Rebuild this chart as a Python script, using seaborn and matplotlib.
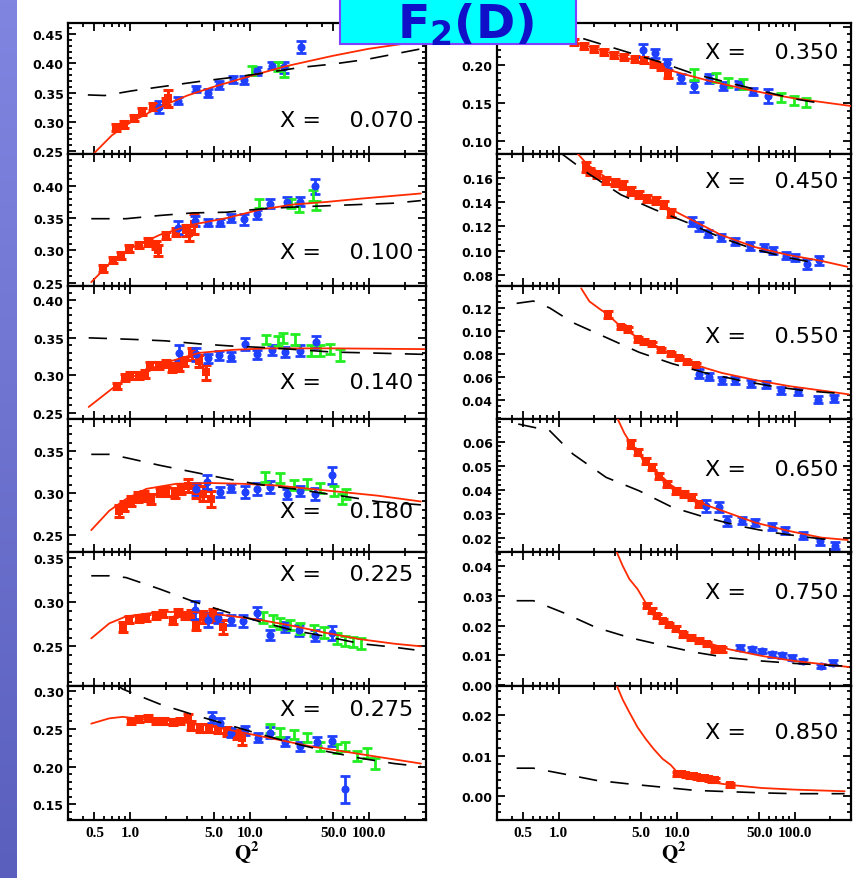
import numpy as np
import matplotlib
matplotlib.use("Agg")
import matplotlib.pyplot as plt
import seaborn as sns
from matplotlib.ticker import (FixedLocator, LogLocator, MultipleLocator,
                               AutoMinorLocator, FuncFormatter, NullFormatter)
from matplotlib.patches import Rectangle
from matplotlib.colors import LinearSegmentedColormap

# ---------------- data (panel order: left column top->bottom, right column top->bottom)
X_LABELS = ["0.070", "0.100", "0.140", "0.180", "0.225", "0.275",
            "0.350", "0.450", "0.550", "0.650", "0.750", "0.850"]

RED_Q = [
    [0.76, 0.89, 1.08, 1.25, 1.54, 1.97, 2.05],
    [0.585, 0.71, 0.83, 0.98, 1.19, 1.4, 1.65, 1.7, 2.0, 2.4, 2.9, 3.1, 3.4],
    [0.765, 0.9, 0.99, 1.17, 1.33, 1.47, 1.73, 1.97, 2.24, 2.55, 2.82, 3.3, 3.77, 4.3],
    [0.81, 0.89, 1.01, 1.15, 1.31, 1.49, 1.76, 2.0, 2.35, 2.67, 3.04, 3.57, 4.07, 4.77],
    [0.86, 0.98, 1.19, 1.35, 1.65, 1.87, 2.27, 2.5, 2.85, 3.24, 3.57, 4.07, 4.95, 6.0],
    [1.01, 1.19, 1.4, 1.65, 1.93, 2.27, 2.6, 3.04, 3.24, 3.8, 4.6, 5.4, 6.4, 7.8, 8.6],
    [1.1, 1.36, 1.65, 2.0, 2.44, 2.96, 3.6, 4.4, 5.3, 6.45, 7.4, 8.4],
    [1.7, 1.85, 2.1, 2.5, 3.0, 3.5, 4.1, 4.8, 5.6, 6.7, 7.8, 8.95],
    [2.6, 3.37, 3.84, 4.66, 5.3, 6.2, 7.3, 8.9, 10.4, 12.3, 14.5],
    [4.1, 4.66, 5.46, 6.2, 7.1, 8.3, 9.8, 11.5, 13.5, 15.4],
    [5.65, 6.2, 6.85, 7.6, 8.6, 9.8, 11.2, 13.1, 15.4, 18.1, 21.3, 24.3],
    [10.1, 11.0, 11.9, 13.0, 14.0, 15.0, 16.0, 17.5, 18.8, 20.0, 21.3, 28.5],
]
RED_F2 = [
    [0.291, 0.295, 0.307, 0.318, 0.327, 0.334, 0.340],
    [0.272, 0.285, 0.292, 0.303, 0.308, 0.313, 0.308, 0.300, 0.323, 0.328, 0.331, 0.327, 0.341],
    [0.286, 0.297, 0.300, 0.300, 0.302, 0.313, 0.313, 0.316, 0.311, 0.312, 0.319, 0.328, 0.319, 0.304],
    [0.279, 0.285, 0.291, 0.295, 0.297, 0.293, 0.301, 0.302, 0.300, 0.305, 0.309, 0.302, 0.299, 0.293],
    [0.272, 0.280, 0.282, 0.283, 0.285, 0.287, 0.279, 0.288, 0.285, 0.286, 0.274, 0.283, 0.285, 0.272],
    [0.260, 0.263, 0.265, 0.261, 0.260, 0.259, 0.261, 0.265, 0.254, 0.251, 0.251, 0.249, 0.247, 0.242, 0.238],
    [0.236, 0.230, 0.225, 0.221, 0.2175, 0.213, 0.210, 0.208, 0.206, 0.201, 0.197, 0.188],
    [0.169, 0.165, 0.1625, 0.158, 0.156, 0.154, 0.149, 0.146, 0.143, 0.141, 0.138, 0.131],
    [0.1144, 0.1036, 0.1016, 0.093, 0.091, 0.0888, 0.0837, 0.0803, 0.0769, 0.0732, 0.0703],
    [0.0590, 0.0555, 0.0520, 0.0493, 0.0458, 0.0423, 0.0395, 0.0381, 0.0368, 0.0340],
    [0.0267, 0.0250, 0.0233, 0.0216, 0.0202, 0.0190, 0.0171, 0.0160, 0.0149, 0.0138, 0.0121, 0.0121],
    [0.0055, 0.0054, 0.0052, 0.0050, 0.0049, 0.0047, 0.0044, 0.0044, 0.0043, 0.0041, 0.0039, 0.0028],
]
RED_ERR = [
    [0.006, 0.006, 0.005, 0.006, 0.006, 0.006, 0.014],
    [0.005, 0.005, 0.005, 0.005, 0.005, 0.006, 0.006, 0.008, 0.006, 0.006, 0.008, 0.012, 0.016],
    [0.004, 0.005, 0.005, 0.005, 0.005, 0.005, 0.005, 0.005, 0.006, 0.006, 0.006, 0.008, 0.008, 0.010],
    [0.007, 0.006, 0.006, 0.006, 0.006, 0.006, 0.005, 0.005, 0.006, 0.006, 0.008, 0.008, 0.009, 0.009],
    [0.006, 0.004, 0.004, 0.004, 0.004, 0.004, 0.004, 0.004, 0.004, 0.005, 0.006, 0.007, 0.007, 0.008],
    [0.004, 0.004, 0.004, 0.004, 0.004, 0.004, 0.004, 0.005, 0.006, 0.005, 0.005, 0.005, 0.006, 0.006, 0.010],
    [0.004, 0.004, 0.004, 0.004, 0.004, 0.004, 0.004, 0.004, 0.004, 0.004, 0.004, 0.005],
    [0.004, 0.003, 0.003, 0.003, 0.003, 0.003, 0.003, 0.003, 0.003, 0.003, 0.003, 0.003],
    [0.003, 0.002, 0.002, 0.002, 0.002, 0.002, 0.002, 0.002, 0.002, 0.002, 0.002],
    [0.0015, 0.0012, 0.0012, 0.0012, 0.0012, 0.0012, 0.0012, 0.0012, 0.0012, 0.0012],
    [0.0009, 0.0008, 0.0008, 0.0008, 0.0008, 0.0008, 0.0008, 0.0008, 0.0008, 0.0008, 0.0008, 0.0008],
    [0.0005, 0.0005, 0.0005, 0.0005, 0.0005, 0.0005, 0.0005, 0.0005, 0.0005, 0.0005, 0.0005, 0.0005],
]

BLUE_Q = [
    [1.73, 2.5, 3.54, 4.5, 5.56, 7.2, 9.0, 11.4, 15.3, 19.5, 27.0],
    [2.5, 3.45, 4.5, 5.6, 7.0, 9.0, 11.6, 14.8, 20.5, 26.5, 35.5],
    [2.55, 3.54, 4.5, 5.56, 7.0, 9.1, 11.4, 15.3, 19.8, 26.5, 35.7],
    [3.57, 4.35, 5.6, 7.0, 9.1, 11.5, 14.8, 20.5, 26.6, 35.5, 49.0],
    [3.46, 4.5, 5.4, 7.0, 8.85, 11.5, 14.8, 19.8, 25.7, 35.5, 49.0],
    [4.8, 5.6, 7.0, 9.1, 11.8, 14.8, 19.8, 26.6, 36.7, 49.0, 63.0],
    [5.15, 6.6, 8.3, 10.8, 14.1, 18.9, 24.6, 33.9, 44.2, 59.7],
    [13.4, 15.5, 18.5, 23.7, 31.0, 42.0, 54.5, 66.0, 84.0, 100.0, 128.0, 161.0],
    [15.4, 18.7, 24.2, 31.3, 43.0, 57.5, 77.0, 107.0, 158.0, 217.0],
    [17.6, 22.7, 26.7, 35.7, 46.0, 63.6, 83.0, 118.0, 163.0, 218.0],
    [34.6, 43.5, 53.0, 64.0, 78.0, 95.0, 118.0, 168.0, 211.0],
    [],
]
BLUE_F2 = [
    [0.325, 0.336, 0.356, 0.350, 0.363, 0.373, 0.371, 0.3875, 0.396, 0.393, 0.428],
    [0.335, 0.345, 0.343, 0.343, 0.350, 0.348, 0.356, 0.372, 0.375, 0.375, 0.399],
    [0.330, 0.328, 0.323, 0.327, 0.325, 0.342, 0.328, 0.334, 0.331, 0.333, 0.344],
    [0.305, 0.313, 0.301, 0.306, 0.301, 0.305, 0.307, 0.299, 0.302, 0.299, 0.321],
    [0.291, 0.280, 0.282, 0.280, 0.279, 0.288, 0.263, 0.272, 0.268, 0.262, 0.265],
    [0.265, 0.258, 0.245, 0.248, 0.238, 0.245, 0.233, 0.227, 0.233, 0.234, 0.170],
    [0.219, 0.215, 0.202, 0.1825, 0.172, 0.182, 0.172, 0.174, 0.165, 0.159],
    [0.124, 0.120, 0.114, 0.111, 0.1075, 0.104, 0.1026, 0.100, 0.096, 0.0944, 0.089, 0.092],
    [0.0632, 0.0604, 0.0576, 0.0576, 0.0547, 0.0539, 0.049, 0.0476, 0.0405, 0.042],
    [0.0333, 0.0328, 0.0270, 0.0270, 0.0263, 0.0245, 0.0231, 0.0208, 0.0184, 0.0166],
    [0.0126, 0.0121, 0.0115, 0.0104, 0.0100, 0.0092, 0.0081, 0.0064, 0.0076],
    [],
]
BLUE_ERR = [
    [0.010, 0.006, 0.005, 0.007, 0.006, 0.006, 0.007, 0.007, 0.006, 0.010, 0.010],
    [0.010, 0.008, 0.006, 0.006, 0.006, 0.009, 0.007, 0.007, 0.007, 0.007, 0.012],
    [0.010, 0.009, 0.006, 0.006, 0.006, 0.008, 0.006, 0.007, 0.007, 0.007, 0.008],
    [0.007, 0.008, 0.006, 0.005, 0.007, 0.007, 0.007, 0.006, 0.006, 0.007, 0.010],
    [0.010, 0.008, 0.006, 0.006, 0.007, 0.007, 0.006, 0.006, 0.006, 0.006, 0.008],
    [0.007, 0.006, 0.006, 0.006, 0.006, 0.007, 0.006, 0.006, 0.006, 0.007, 0.018],
    [0.008, 0.006, 0.006, 0.006, 0.007, 0.006, 0.005, 0.005, 0.005, 0.009],
    [0.004, 0.004, 0.003, 0.003, 0.003, 0.003, 0.003, 0.003, 0.003, 0.003, 0.004, 0.004],
    [0.004, 0.003, 0.003, 0.003, 0.003, 0.003, 0.003, 0.003, 0.003, 0.003],
    [0.0025, 0.002, 0.002, 0.0015, 0.0015, 0.0015, 0.0015, 0.0015, 0.0015, 0.0015],
    [0.0008, 0.0008, 0.0008, 0.0008, 0.0008, 0.0008, 0.0008, 0.0008, 0.0008],
    [],
]

GREEN_Q = [
    [10.4, 17.3, 19.3],
    [12.0, 22.0, 26.0, 34.0, 36.0],
    [13.8, 17.3, 19.1, 24.0, 32.4, 39.0, 47.5, 57.6],
    [13.4, 18.0, 23.4, 30.2, 39.0, 51.0, 59.5, 63.5],
    [13.0, 15.8, 18.0, 21.8, 26.6, 34.4, 41.7, 54.0, 63.0, 74.0, 85.0],
    [14.8, 18.0, 23.4, 30.0, 39.0, 54.0, 63.0, 79.0, 96.0, 113.0],
    [14.1, 21.4, 27.0, 36.4, 76.0, 99.0, 124.0],
    [], [], [], [], [],
]
GREEN_F2 = [
    [0.388, 0.395, 0.386],
    [0.372, 0.372, 0.367, 0.385, 0.370],
    [0.348, 0.346, 0.350, 0.348, 0.333, 0.333, 0.335, 0.327],
    [0.319, 0.318, 0.310, 0.311, 0.306, 0.303, 0.293, 0.299],
    [0.283, 0.279, 0.276, 0.274, 0.270, 0.268, 0.266, 0.259, 0.256, 0.255, 0.253],
    [0.251, 0.245, 0.242, 0.238, 0.227, 0.224, 0.227, 0.214, 0.218, 0.204],
    [0.187, 0.184, 0.177, 0.175, 0.157, 0.153, 0.151],
    [], [], [], [], [],
]
GREEN_ERR = [
    [0.008, 0.008, 0.009],
    [0.007, 0.007, 0.007, 0.008, 0.007],
    [0.006, 0.007, 0.007, 0.007, 0.007, 0.007, 0.007, 0.008],
    [0.006, 0.006, 0.006, 0.006, 0.006, 0.006, 0.006, 0.006],
    [0.006, 0.006, 0.006, 0.006, 0.006, 0.006, 0.006, 0.006, 0.006, 0.006, 0.006],
    [0.006, 0.006, 0.006, 0.006, 0.006, 0.006, 0.006, 0.006, 0.006, 0.007],
    [0.007, 0.006, 0.006, 0.006, 0.006, 0.006, 0.006],
    [], [], [], [], [],
]

FIT_Q = [
    [0.5, 0.7, 1.0, 1.5, 2.0, 3.0, 5.0, 10, 20, 50, 100, 300],
    [0.47, 0.665, 1.0, 1.76, 3.35, 6.4, 12.2, 23.4, 44.5, 85, 272],
    [0.447, 0.765, 1.17, 1.97, 3.77, 7.2, 13.8, 50.7, 292],
    [0.47, 0.665, 0.92, 1.36, 2.42, 4.6, 8.8, 16.9, 32, 61.5, 117, 272],
    [0.47, 0.665, 0.92, 1.76, 3.35, 6.4, 12.2, 23.4, 44.5, 85, 162, 272],
    [0.47, 0.665, 0.86, 1.27, 2.42, 4.6, 8.8, 16.9, 32, 61.5, 117, 272],
    [0.9, 1.3, 2.0, 3.6, 6.4, 10.8, 18.9, 33.9, 60, 100, 300],
    [1.44, 1.76, 2.44, 3.37, 4.67, 6.47, 8.95, 12.4, 17.2, 23.7, 45.5, 87, 167, 280],
    [1.55, 1.82, 2.2, 2.6, 3.43, 4.66, 6.47, 8.9, 12.6, 17.6, 24.2, 46.7, 90, 173, 287],
    [2.9, 3.16, 3.6, 4.1, 5.2, 6.65, 8.9, 12.7, 17.6, 24.3, 46, 88.5, 168, 282],
    [2.9, 3.1, 3.48, 3.97, 4.66, 5.65, 7.6, 10.4, 14.5, 27.5, 53, 100, 287],
    [3.0, 3.16, 3.48, 3.97, 4.66, 5.47, 6.44, 7.6, 8.9, 10.1, 14.5, 20.0, 27.5, 53, 100, 265],
]
FIT_F2 = [
    [0.247, 0.277, 0.299, 0.318, 0.330, 0.345, 0.360, 0.378, 0.395, 0.413, 0.425, 0.439],
    [0.251, 0.279, 0.303, 0.324, 0.340, 0.350, 0.363, 0.371, 0.375, 0.380, 0.388],
    [0.258, 0.287, 0.302, 0.317, 0.330, 0.334, 0.336, 0.336, 0.335],
    [0.256, 0.279, 0.293, 0.305, 0.311, 0.312, 0.311, 0.309, 0.305, 0.301, 0.297, 0.290],
    [0.259, 0.276, 0.284, 0.289, 0.289, 0.285, 0.280, 0.273, 0.265, 0.258, 0.253, 0.250],
    [0.257, 0.264, 0.266, 0.263, 0.260, 0.254, 0.245, 0.236, 0.227, 0.220, 0.213, 0.204],
    [0.245, 0.231, 0.222, 0.210, 0.199, 0.189, 0.179, 0.170, 0.162, 0.156, 0.146],
    [0.180, 0.1706, 0.161, 0.153, 0.146, 0.1407, 0.134, 0.127, 0.120, 0.113, 0.1031, 0.0966, 0.0917, 0.0868],
    [0.137, 0.1257, 0.1195, 0.1144, 0.103, 0.0945, 0.0874, 0.0805, 0.0732, 0.0680, 0.0638, 0.0576, 0.0524, 0.0485, 0.0453],
    [0.074, 0.0694, 0.0635, 0.059, 0.0525, 0.0478, 0.0420, 0.0368, 0.0336, 0.0312, 0.0263, 0.0228, 0.0200, 0.0190],
    [0.049, 0.0448, 0.0402, 0.0357, 0.0323, 0.0267, 0.0216, 0.0180, 0.0154, 0.0121, 0.0098, 0.0081, 0.0061],
    [0.029, 0.0268, 0.0239, 0.0207, 0.0170, 0.0141, 0.0115, 0.0092, 0.0077, 0.0059, 0.0043, 0.0034, 0.0028, 0.0020, 0.0016, 0.0012],
]

DASH_Q = [
    [0.44, 0.61, 1.03, 1.97, 3.77, 7.2, 13.8, 26.5, 50.7, 97, 292],
    [0.47, 0.92, 1.76, 3.35, 6.4, 12.2, 23.4, 44.5, 85, 162, 272],
    [0.447, 1.03, 1.97, 3.77, 7.2, 13.8, 26.5, 50.7, 97, 292],
    [0.47, 0.665, 0.92, 1.76, 3.35, 6.4, 12.2, 23.4, 44.5, 70, 117, 272],
    [0.47, 0.665, 0.92, 1.76, 3.35, 6.4, 12.2, 23.4, 44.5, 85, 162, 240],
    [0.75, 0.86, 1.27, 1.76, 3.35, 6.4, 12.2, 23.4, 44.5, 85, 162, 272],
    [0.9, 1.5, 3.85, 7.3, 14.1, 27, 52, 99, 190],
    [1.05, 1.76, 3.37, 6.47, 12.4, 23.7, 45.5, 87, 167],
    [0.44, 0.61, 0.84, 1.32, 2.52, 4.8, 9.2, 17.6, 33.5, 63.6, 121, 232],
    [0.454, 0.84, 1.32, 2.52, 4.8, 9.2, 17.6, 33.5, 63.6, 121, 232],
    [0.44, 0.61, 1.09, 2.07, 3.97, 7.6, 14.5, 27.5, 53, 100, 265],
    [0.44, 0.61, 1.09, 2.07, 3.97, 7.6, 14.5, 27.5, 53, 100, 265],
]
DASH_F2 = [
    [0.346, 0.345, 0.353, 0.361, 0.369, 0.376, 0.384, 0.393, 0.399, 0.407, 0.426],
    [0.349, 0.349, 0.354, 0.358, 0.359, 0.364, 0.367, 0.369, 0.371, 0.373, 0.377],
    [0.350, 0.348, 0.346, 0.342, 0.339, 0.337, 0.334, 0.331, 0.330, 0.328],
    [0.346, 0.346, 0.342, 0.333, 0.325, 0.317, 0.310, 0.305, 0.299, 0.295, 0.290, 0.286],
    [0.330, 0.330, 0.328, 0.315, 0.301, 0.289, 0.278, 0.268, 0.261, 0.253, 0.249, 0.246],
    [0.310, 0.303, 0.292, 0.283, 0.269, 0.256, 0.243, 0.231, 0.220, 0.211, 0.204, 0.200],
    [0.248, 0.236, 0.2166, 0.2035, 0.188, 0.177, 0.166, 0.1555, 0.148],
    [0.180, 0.1638, 0.146, 0.1339, 0.123, 0.1108, 0.1012, 0.0944, 0.089],
    [0.124, 0.126, 0.120, 0.1073, 0.0945, 0.0817, 0.0718, 0.0638, 0.0576, 0.0524, 0.0485, 0.0462],
    [0.0673, 0.0645, 0.0548, 0.0451, 0.0395, 0.0326, 0.0284, 0.0249, 0.0222, 0.0203, 0.0187],
    [0.0284, 0.0284, 0.0244, 0.0194, 0.0160, 0.0134, 0.0110, 0.0092, 0.0081, 0.0073, 0.0064],
    [0.0069, 0.0069, 0.0055, 0.0039, 0.0030, 0.0022, 0.0014, 0.0011, 0.0008, 0.0006, 0.0006],
]

XTICK_VALUES = [0.5, 1, 5, 10, 50, 100]
XTICK_LABELS = ["0.5", "1.0", "5.0", "10.0", "50.0", "100.0"]

# ---------------- layout / style
W, H = 868, 879
COL_LEFT = [68, 497]
COL_WIDTH = [358, 354]
ROW_EDGES = [24, 155, 287, 420, 553, 687, 821]
YLIMS = [(0.245, 0.469), (0.245, 0.449), (0.242, 0.419), (0.23, 0.388), (0.205, 0.357), (0.129, 0.307),
         (0.083, 0.255), (0.071, 0.1795), (0.024, 0.139), (0.014, 0.0694), (-0.0003, 0.0448), (-0.0059, 0.0272)]
YSTEP = [0.05, 0.05, 0.05, 0.05, 0.05, 0.05, 0.05, 0.02, 0.02, 0.01, 0.01, 0.01]
YLABEL_MAX = [1, 1, 1, 1, 1, 1, 0.245, 1, 1, 1, 1, 1]   # labels above this are hidden (under title box)
TEXT_Y = [0.262, 0.258, 0.278, 0.308, 0.836, 0.828, 0.78, 0.795, 0.624, 0.624, 0.70, 0.657]

RED = "#ff2a00"
BLUE = "#2040ff"
GREEN = "#22ee22"

sns.set_theme(style="ticks")
plt.rcParams["font.family"] = ["DejaVu Sans"]
plt.rcParams["font.weight"] = "bold"
plt.rcParams["mathtext.fontset"] = "dejavusans"

fig = plt.figure(figsize=(W / 100, H / 100), dpi=100)
fig.patch.set_facecolor("white")

# left slide-background strip
bg = fig.add_axes([0, 0, 17 / W, 1], zorder=-5)
grad = np.linspace(0, 1, 256).reshape(-1, 1)
cmap = LinearSegmentedColormap.from_list("strip", ["#8086e0", "#5a5fbe"])
bg.imshow(grad, aspect="auto", cmap=cmap, extent=[0, 1, 0, 1], origin="upper")
bg.set_axis_off()


def make_fmt(limit):
    return FuncFormatter(lambda v, p: "" if v > limit else "%.2f" % v)


for i in range(12):
    col, row = divmod(i, 6)
    top, bot = ROW_EDGES[row], ROW_EDGES[row + 1]
    ax = fig.add_axes([COL_LEFT[col] / W, 1 - bot / H, COL_WIDTH[col] / W, (bot - top) / H])
    ax.set_facecolor("white")
    ax.set_xscale("log")
    ax.set_xlim(0.3, 300)
    ax.set_ylim(*YLIMS[i])

    # error bars
    for q, f, e, c, lw in [(RED_Q[i], RED_F2[i], RED_ERR[i], RED, 2.2),
                           (BLUE_Q[i], BLUE_F2[i], BLUE_ERR[i], BLUE, 2.0),
                           (GREEN_Q[i], GREEN_F2[i], GREEN_ERR[i], GREEN, 2.0)]:
        if len(q):
            ax.errorbar(q, f, yerr=e, fmt="none", ecolor=c, elinewidth=lw,
                        capsize=3.8, capthick=lw, zorder=2)
    # markers
    sns.scatterplot(x=RED_Q[i], y=RED_F2[i], ax=ax, marker="s", s=26, color=RED,
                    edgecolor=RED, linewidth=0, zorder=3, legend=False)
    if len(BLUE_Q[i]):
        sns.scatterplot(x=BLUE_Q[i], y=BLUE_F2[i], ax=ax, marker="o", s=34, color=BLUE,
                        edgecolor=BLUE, linewidth=0, zorder=3, legend=False)

    # curves
    sns.lineplot(x=FIT_Q[i], y=FIT_F2[i], ax=ax, color=RED, linewidth=1.3,
                 sort=False, estimator=None, zorder=4, legend=False)
    sns.lineplot(x=DASH_Q[i], y=DASH_F2[i], ax=ax, color="black", linewidth=1.2,
                 sort=False, estimator=None, zorder=4, legend=False)
    ax.lines[-1].set_dashes((11, 8))

    # ticks
    ax.xaxis.set_major_locator(FixedLocator(XTICK_VALUES))
    ax.xaxis.set_minor_locator(LogLocator(base=10, subs=np.arange(2, 10) * 1.0, numticks=20))
    ax.xaxis.set_minor_formatter(NullFormatter())
    if row == 5:
        ax.set_xticks(XTICK_VALUES, labels=XTICK_LABELS)
        for lab in ax.get_xticklabels():
            lab.set_fontfamily("Liberation Serif")
            lab.set_fontweight("bold")
            lab.set_fontsize(11)
    else:
        ax.tick_params(axis="x", labelbottom=False)
    ax.yaxis.set_major_locator(MultipleLocator(YSTEP[i]))
    ax.yaxis.set_minor_locator(AutoMinorLocator(4 if YSTEP[i] == 0.02 else 5))
    ax.yaxis.set_major_formatter(make_fmt(YLABEL_MAX[i]))
    ax.tick_params(which="both", direction="in", top=True, right=True, width=1.3, color="black")
    ax.tick_params(which="major", length=6)
    ax.tick_params(which="minor", length=3)
    ax.tick_params(axis="y", pad=3, labelsize=9, labelcolor="black")
    ax.tick_params(axis="x", pad=4, labelcolor="black")
    for s in ax.spines.values():
        s.set_linewidth(1.6)
        s.set_color("black")
    ax.set_xlabel("")
    ax.set_ylabel("")

    ax.text(0.965, TEXT_Y[i], "X =    " + X_LABELS[i], transform=ax.transAxes,
            ha="right", va="center", fontsize=16, fontweight="normal",
            fontfamily="DejaVu Sans", color="black", zorder=6)

# Q^2 axis labels
for col in range(2):
    cx = (COL_LEFT[col] + COL_WIDTH[col] / 2) / W
    fig.text(cx, 1 - 853 / H, r"$\mathbf{Q^2}$", ha="center", va="center",
             fontsize=15, math_fontfamily="stix", color="black")

# title box
ov = fig.add_axes([0, 0, 1, 1], zorder=20)
ov.set_xlim(0, W)
ov.set_ylim(H, 0)
ov.set_axis_off()
ov.patch.set_visible(False)
ov.add_patch(Rectangle((340, -3), 236, 48, facecolor="#00ffff", edgecolor="#8040ff", linewidth=1.5))
ov.text(466, 39, r"F$_{\mathbf{2}}$(D)", ha="center", va="baseline", fontsize=34,
        fontweight="bold", color="#1010c8", fontfamily="DejaVu Sans")

fig.savefig("out.png", dpi=100)
